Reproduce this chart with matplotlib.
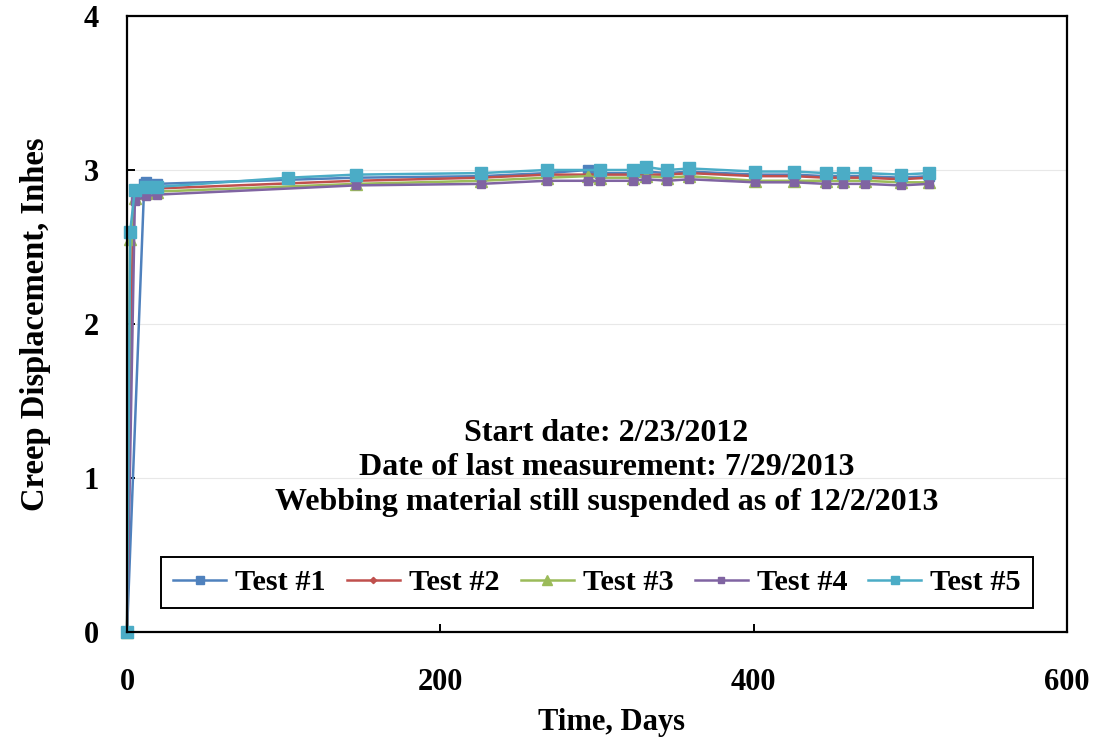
import matplotlib
matplotlib.use("Agg")
import matplotlib.pyplot as plt

plt.rcParams['font.family'] = ['Liberation Serif', 'DejaVu Serif']
plt.rcParams['font.weight'] = 'bold'

# ---- data ----
t1_days = [0, 11, 12, 19, 146, 226, 268, 294, 302, 323, 331, 345, 359, 401, 426, 446, 457, 471, 494, 512]
t1_vals = [0, 2.91, 2.92, 2.91, 2.95, 2.96, 2.98, 3.0, 2.98, 2.98, 2.99, 2.98, 2.99, 2.97, 2.97, 2.96, 2.96, 2.96, 2.95, 2.96]

t2_days = [0, 4, 12, 19, 146, 226, 268, 302, 323, 331, 345, 359, 401, 426, 446, 457, 471, 494, 512]
t2_vals = [0, 2.85, 2.87, 2.88, 2.93, 2.95, 2.97, 2.97, 2.97, 2.97, 2.97, 2.98, 2.96, 2.96, 2.95, 2.95, 2.95, 2.94, 2.95]

t3_days = [0, 2, 5, 12, 19, 146, 226, 268, 294, 302, 323, 331, 345, 359, 401, 426, 446, 457, 471, 494, 512]
t3_vals = [0, 2.55, 2.82, 2.85, 2.86, 2.91, 2.93, 2.95, 2.96, 2.95, 2.95, 2.96, 2.95, 2.96, 2.93, 2.93, 2.93, 2.93, 2.93, 2.92, 2.92]

t4_days = [0, 5, 12, 19, 146, 226, 268, 294, 302, 323, 331, 345, 359, 401, 426, 446, 457, 471, 494, 512]
t4_vals = [0, 2.8, 2.83, 2.84, 2.9, 2.91, 2.93, 2.93, 2.93, 2.93, 2.94, 2.93, 2.94, 2.92, 2.92, 2.91, 2.91, 2.91, 2.9, 2.91]

t5_days = [0, 2, 5, 12, 19, 103, 146, 226, 268, 302, 323, 331, 345, 359, 401, 426, 446, 457, 471, 494, 512]
t5_vals = [0, 2.6, 2.87, 2.89, 2.89, 2.95, 2.97, 2.98, 3.0, 3.0, 3.0, 3.02, 3.0, 3.01, 2.99, 2.99, 2.98, 2.98, 2.98, 2.97, 2.98]

series_labels = ['Test #1', 'Test #2', 'Test #3', 'Test #4', 'Test #5']
x_ticks = [0, 200, 400, 600]
y_ticks = [0, 1, 2, 3, 4]
notes = ["Start date: 2/23/2012",
         "Date of last measurement: 7/29/2013",
         "Webbing material still suspended as of 12/2/2013"]

# ---- plot ----
fig = plt.figure(figsize=(10.95, 7.44), dpi=100)
ax = fig.add_axes([0.116, 0.1505, 0.8584, 0.828])

styles = [
    dict(color='#4F81BD', marker='s', ms=6.5),
    dict(color='#C0504D', marker='D', ms=4),
    dict(color='#9BBB59', marker='^', ms=8.5),
    dict(color='#8064A2', marker='s', ms=6),
    dict(color='#4BACC6', marker='s', ms=8),
]
data = [(t1_days, t1_vals), (t2_days, t2_vals), (t3_days, t3_vals),
        (t4_days, t4_vals), (t5_days, t5_vals)]
for (d, v), lab, st in zip(data, series_labels, styles):
    ax.plot(d, v, color=st['color'], marker=st['marker'], markersize=st['ms'],
            markeredgecolor=st['color'], linewidth=1.8, label=lab, clip_on=False)

ax.set_xlim(0, 600)
ax.set_ylim(0, 4)
ax.set_xticks(x_ticks)
ax.set_yticks(y_ticks)
ax.yaxis.grid(True, color='#e8e8e8', linewidth=0.8)
ax.set_axisbelow(True)
for s in ax.spines.values():
    s.set_linewidth(1.6)
    s.set_color('black')
ax.tick_params(direction='in', length=6, width=1.4, labelsize=22)
ax.tick_params(axis='x', pad=26)
ax.tick_params(axis='y', pad=20)

ax.set_xlabel('Time, Days', fontsize=22, fontweight='bold')
ax.set_ylabel('Creep Displacement, Inhes', fontsize=23.5, fontweight='bold')
ax.xaxis.set_label_coords(0.515, -0.123)
ax.yaxis.set_label_coords(-0.081, 0.5)

for txt, yv in zip(notes, [1.29, 1.07, 0.84]):
    ax.text(306, yv, txt, ha='center', va='center', fontsize=23, fontweight='bold')

leg = ax.legend(loc='center', bbox_to_anchor=(0.5, 0.08), ncol=5, fontsize=21.8,
                frameon=True, fancybox=False, edgecolor='black', framealpha=1,
                handlelength=1.75, handletextpad=0.3, columnspacing=0.7,
                borderpad=0.4, markerscale=0.8)
leg.get_frame().set_linewidth(1.4)

fig.savefig('out.png', dpi=100)
